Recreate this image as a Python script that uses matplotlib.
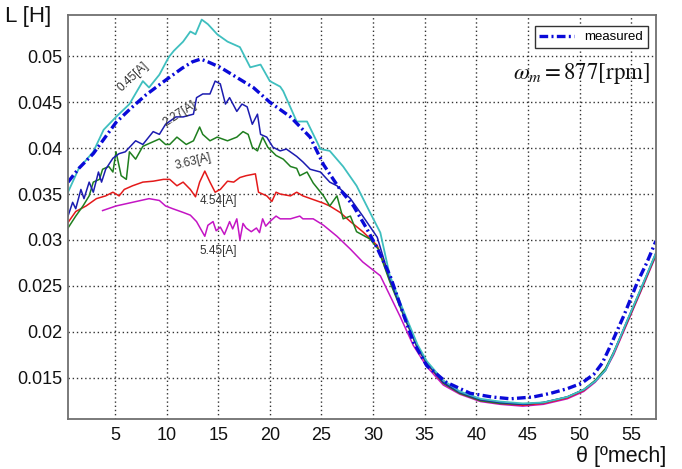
import matplotlib
matplotlib.use("Agg")
import matplotlib.pyplot as plt

plt.rcParams['font.family'] = ['Liberation Sans', 'DejaVu Sans']
plt.rcParams['mathtext.fontset'] = 'stix'

# ---- data ----
theta_meas = [0.45, 1.5, 2.9, 4.0, 5.1, 6.5, 8.0, 9.9, 11.5, 12.5, 13.3, 14.0, 15.2, 16.8, 18.4,
              20.0, 22.0, 23.9, 25.2, 26.8, 28.1, 29.4, 30.4, 31.65, 32.9, 33.9, 35.2, 37.1, 39.4,
              41.5, 43.3, 45.5, 47.2, 48.8, 50.2, 51.4, 52.2, 53.0, 54.3, 55.6, 56.5, 57.4]
L_meas = [0.0363, 0.0378, 0.0394, 0.0411, 0.0428, 0.0443, 0.0458, 0.0474, 0.0487, 0.0494, 0.0497,
          0.0494, 0.0488, 0.0477, 0.0466, 0.0450, 0.0434, 0.0412, 0.0382, 0.0355, 0.0337, 0.0312,
          0.0291, 0.0261, 0.0220, 0.0189, 0.0163, 0.0145, 0.0133, 0.0129, 0.0127, 0.0129, 0.0133,
          0.0138, 0.0144, 0.0154, 0.0166, 0.0185, 0.0218, 0.0254, 0.0275, 0.0299]

theta_045 = [0.45, 1.5, 2.9, 3.9, 5.1, 6.4, 7.7, 8.3, 9.3, 10.2, 10.7, 11.6, 12.3, 12.8, 13.4, 14.0,
             14.9, 15.9, 17.1, 18.1, 19.1, 20.0, 21.0, 21.3, 22.6, 23.6, 24.9, 25.8, 27.1, 28.4,
             29.7, 30.7, 31.6, 32.9, 34.3, 35.2, 36.8, 38.4, 40.4, 42.3, 44.5, 46.5, 48.8, 50.4,
             51.5, 52.5, 53.3, 54.6, 55.9, 57.4]
L_045 = [0.0352, 0.0378, 0.0396, 0.0420, 0.0434, 0.0448, 0.0473, 0.0466, 0.0480, 0.0499, 0.0506,
         0.0516, 0.0527, 0.0524, 0.0540, 0.0535, 0.0524, 0.0516, 0.0510, 0.0488, 0.0491, 0.0473,
         0.0467, 0.0462, 0.0429, 0.0429, 0.0399, 0.0397, 0.0380, 0.0359, 0.0330, 0.0308, 0.0262,
         0.0224, 0.0186, 0.0168, 0.0147, 0.0135, 0.0127, 0.0124, 0.0122, 0.0123, 0.0129, 0.0137,
         0.0146, 0.0158, 0.0177, 0.0212, 0.0246, 0.0286]

theta_227 = [0.45, 0.9, 1.2, 1.7, 2.0, 2.5, 2.9, 3.4, 3.7, 4.1, 4.8, 5.4, 6.0, 7.0, 7.7, 8.7, 9.3,
             9.9, 10.9, 11.6, 12.6, 12.9, 13.5, 14.2, 14.7, 15.2, 15.7, 16.1, 16.8, 17.3, 17.8,
             18.3, 18.8, 19.1, 19.7, 20.3, 21.0, 21.6, 22.6, 23.2, 23.9, 24.9, 25.8, 26.5, 27.8,
             29.0, 30.4, 31.6, 32.9, 34.3, 35.2, 36.8, 38.4, 40.4, 42.3, 44.5, 46.5, 48.8, 50.4,
             51.5, 52.5, 53.3, 54.6, 55.9, 57.4]
L_227 = [0.0326, 0.0341, 0.0334, 0.0355, 0.0345, 0.0363, 0.0352, 0.0374, 0.0363, 0.0377, 0.0389,
         0.0394, 0.0396, 0.0408, 0.0404, 0.0418, 0.0415, 0.0426, 0.0434, 0.0434, 0.0437, 0.0455,
         0.0459, 0.0459, 0.0473, 0.0470, 0.0448, 0.0455, 0.0440, 0.0448, 0.0445, 0.0426, 0.0437,
         0.0415, 0.0412, 0.0401, 0.0397, 0.0399, 0.0391, 0.0385, 0.0377, 0.0374, 0.0363, 0.0359,
         0.0345, 0.0326, 0.0303, 0.0258, 0.0221, 0.0183, 0.0166, 0.0145, 0.0134, 0.0126, 0.0123,
         0.0121, 0.0123, 0.0129, 0.0137, 0.0146, 0.0158, 0.0177, 0.0212, 0.0246, 0.0286]

theta_363 = [0.45, 1.2, 1.9, 2.5, 2.9, 3.5, 3.8, 4.4, 4.8, 5.1, 5.6, 6.1, 6.4, 7.0, 7.7, 8.7, 9.3,
             9.9, 10.3, 11.0, 11.9, 12.6, 13.2, 13.5, 14.2, 14.9, 15.9, 16.8, 17.4, 17.9, 18.3,
             18.8, 19.3, 19.8, 20.6, 21.3, 22.0, 22.6, 22.9, 23.6, 24.2, 25.2, 25.8, 26.5, 27.1,
             27.8, 28.4, 29.7, 30.5, 31.6, 32.9, 34.3, 35.2, 36.8, 38.4, 40.4, 42.3, 44.5, 46.5,
             48.8, 50.4, 51.5, 52.5, 53.3, 54.6, 55.9, 57.4]
L_363 = [0.0313, 0.0326, 0.0337, 0.0348, 0.0363, 0.0366, 0.0377, 0.0380, 0.0374, 0.0396, 0.0370,
         0.0366, 0.0396, 0.0388, 0.0402, 0.0407, 0.0410, 0.0404, 0.0404, 0.0412, 0.0404, 0.0408,
         0.0423, 0.0415, 0.0408, 0.0412, 0.0408, 0.0412, 0.0418, 0.0415, 0.0401, 0.0397, 0.0412,
         0.0401, 0.0392, 0.0388, 0.0380, 0.0378, 0.0370, 0.0374, 0.0362, 0.0348, 0.0337, 0.0348,
         0.0323, 0.0326, 0.0309, 0.0301, 0.0290, 0.0255, 0.0219, 0.0182, 0.0166, 0.0144, 0.0133,
         0.0125, 0.0122, 0.0121, 0.0123, 0.0129, 0.0137, 0.0147, 0.0160, 0.0178, 0.0211, 0.0245,
         0.0285]

theta_454 = [0.45, 1.2, 2.2, 3.2, 4.1, 4.8, 5.4, 5.9, 6.7, 7.7, 8.7, 9.7, 10.3, 11.0, 11.6, 12.3,
             12.8, 13.2, 13.7, 14.2, 14.7, 15.2, 15.9, 16.5, 17.1, 17.7, 18.6, 18.9, 19.7, 20.2,
             20.6, 21.0, 22.0, 22.6, 23.2, 24.2, 25.2, 25.8, 26.8, 27.8, 29.0, 30.4, 31.6, 32.9,
             34.3, 35.2, 36.8, 38.4, 40.4, 42.3, 44.5, 46.5, 48.8, 50.4, 51.5, 52.5, 53.3, 54.6,
             55.9, 57.4]
L_454 = [0.0319, 0.0331, 0.0337, 0.0345, 0.0348, 0.0352, 0.0348, 0.0355, 0.0359, 0.0363, 0.0364,
         0.0366, 0.0366, 0.0359, 0.0363, 0.0355, 0.0347, 0.0363, 0.0375, 0.0363, 0.0352, 0.0355,
         0.0364, 0.0363, 0.0368, 0.0370, 0.0372, 0.0352, 0.0348, 0.0342, 0.0352, 0.0350, 0.0348,
         0.0352, 0.0348, 0.0344, 0.0340, 0.0337, 0.0330, 0.0320, 0.0309, 0.0294, 0.0257, 0.0221,
         0.0183, 0.0165, 0.0144, 0.0133, 0.0125, 0.0122, 0.0120, 0.0122, 0.0128, 0.0136, 0.0146,
         0.0159, 0.0176, 0.0210, 0.0244, 0.0284]

theta_545 = [3.8, 5.1, 6.7, 8.3, 9.3, 9.9, 10.6, 11.6, 12.3, 12.9, 13.3, 13.7, 14.0, 14.5, 14.8,
             15.2, 15.6, 16.1, 16.4, 16.8, 17.0, 17.1, 17.4, 17.7, 18.2, 18.7, 19.0, 19.3, 19.6,
             20.0, 20.6, 21.0, 22.0, 22.9, 23.2, 24.2, 25.2, 26.5, 27.8, 29.0, 30.7, 32.6, 33.9,
             35.2, 36.8, 38.4, 40.4, 42.3, 44.5, 46.5, 48.8, 50.4, 51.5, 52.5, 53.3, 54.6, 55.9,
             57.4]
L_545 = [0.0332, 0.0337, 0.0341, 0.0345, 0.0343, 0.0337, 0.0334, 0.0330, 0.0327, 0.0320, 0.0312,
         0.0304, 0.0316, 0.0320, 0.0310, 0.0314, 0.0306, 0.0320, 0.0312, 0.0323, 0.0308, 0.0300,
         0.0318, 0.0313, 0.0309, 0.0313, 0.0308, 0.0323, 0.0315, 0.0320, 0.0326, 0.0323, 0.0323,
         0.0326, 0.0323, 0.0323, 0.0316, 0.0304, 0.0290, 0.0276, 0.0261, 0.0217, 0.0185, 0.0162,
         0.0142, 0.0132, 0.0124, 0.0121, 0.0119, 0.0121, 0.0127, 0.0135, 0.0145, 0.0158, 0.0175,
         0.0209, 0.0243, 0.0283]

current_labels = ['0.45[A]', '2.27[A]', '3.63[A]', '4.54[A]', '5.45[A]']
label_theta = [6.75, 11.3, 12.6, 15.0, 15.0]
label_L = [0.0478, 0.0437, 0.0385, 0.0342, 0.0288]
label_rot = [43, 33, 14, 0, 0]

x_ticks = [5, 10, 15, 20, 25, 30, 35, 40, 45, 50, 55]
y_ticks = [0.015, 0.02, 0.025, 0.03, 0.035, 0.04, 0.045, 0.05]
y_ticklabels = ['0.015', '0.02', '0.025', '0.03', '0.035', '0.04', '0.045', '0.05']

# ---- figure ----
fig = plt.figure(figsize=(6.82, 4.69), dpi=100)
ax = fig.add_axes([68 / 682, 50 / 469, 588 / 682, 404 / 469])

ax.plot(theta_545, L_545, color='#c415c4', lw=1.1)
ax.plot(theta_454, L_454, color='#e41a1a', lw=1.1)
ax.plot(theta_363, L_363, color='#1f7f1f', lw=1.1)
ax.plot(theta_227, L_227, color='#1c1cb0', lw=1.1)
ax.plot(theta_045, L_045, color='#3fbfbf', lw=1.3)
ax.plot(theta_meas, L_meas, color='#0a0ad8', lw=2.4,
        dashes=(2.6, 1.0, 0.6, 1.0), label='measured')

for txt, tx, ty, rot in zip(current_labels, label_theta, label_L, label_rot):
    ax.text(tx, ty, txt, fontsize=8.5, color='#333333', rotation=rot,
            ha='center', va='center', rotation_mode='anchor')

ax.set_xlim(0.45, 57.4)
ax.set_ylim(0.0105, 0.0545)
ax.set_xticks(x_ticks)
ax.set_xticklabels([str(v) for v in x_ticks])
ax.set_yticks(y_ticks)
ax.set_yticklabels(y_ticklabels)
ax.tick_params(length=0, labelsize=13, colors='#111111')
ax.tick_params(axis='x', pad=6)
ax.tick_params(axis='y', pad=4)
ax.grid(True, color='#333333', linestyle=(0, (1, 2)), linewidth=1.0)
for s in ax.spines.values():
    s.set_color('#707070')
    s.set_linewidth(1.3)

leg = ax.legend(loc='upper right', bbox_to_anchor=(0.997, 0.988), fontsize=9.5,
                fancybox=False, framealpha=1, edgecolor='#333333',
                handlelength=2.6, borderpad=0.35, handletextpad=0.8)
leg.get_frame().set_linewidth(1.0)

ax.text(0.990, 0.854, r'$\omega_m = 877[\mathrm{rpm}]$', transform=ax.transAxes,
        fontsize=16.5, ha='right', va='center', color='#111111')

fig.text(0.007, 0.964, 'L [H]', fontsize=16, ha='left', va='center', color='#111111')
fig.text(0.977, 0.026, 'θ [ºmech]', fontsize=15.5, ha='right', va='center', color='#111111')

fig.savefig('out.png', dpi=100)
